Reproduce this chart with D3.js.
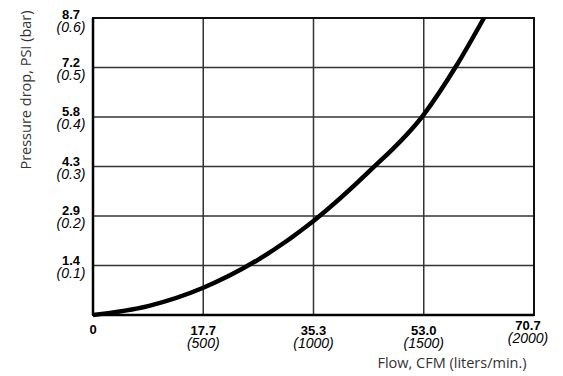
<!DOCTYPE html>
<html><head><meta charset="utf-8">
<script src="https://cdn.jsdelivr.net/npm/d3@7"></script>
<style>body{margin:0;background:#fff}svg{display:block}</style>
</head><body>
<svg id="c" width="563" height="376"></svg>
<script>
// Data
const flowLpm = [0, 250, 500, 750, 1000, 1250, 1500, 1650, 1773];
const pressureBar = [0, 0.018, 0.055, 0.112, 0.19, 0.289, 0.405, 0.505, 0.6];
const xTickLpm = [0, 500, 1000, 1500, 2000];
const xTickCfm = ["0", "17.7", "35.3", "53.0", "70.7"];
const xTickLpmLabels = ["", "(500)", "(1000)", "(1500)", "(2000)"];
const yTickBar = [0.1, 0.2, 0.3, 0.4, 0.5, 0.6];
const yTickPsi = ["1.4", "2.9", "4.3", "5.8", "7.2", "8.7"];
const yTickBarLabels = ["(0.1)", "(0.2)", "(0.3)", "(0.4)", "(0.5)", "(0.6)"];

const svg = d3.select("#c");
const L = 93, R = 534, T = 18, B = 315;
const x = d3.scaleLinear().domain([0, 2000]).range([L, R]);
const y = d3.scaleLinear().domain([0, 0.6]).range([B, T]);

// grid
svg.append("g").selectAll("line").data(xTickLpm.slice(1, -1)).join("line")
  .attr("x1", d => x(d)).attr("x2", d => x(d)).attr("y1", T).attr("y2", B)
  .attr("stroke", "#333").attr("stroke-width", 1.5);
svg.append("g").selectAll("line").data(yTickBar.slice(0, -1)).join("line")
  .attr("x1", L).attr("x2", R).attr("y1", d => y(d)).attr("y2", d => y(d))
  .attr("stroke", "#333").attr("stroke-width", 1.5);

// frame
svg.append("rect").attr("x", L).attr("y", T).attr("width", R - L).attr("height", B - T)
  .attr("fill", "none").attr("stroke", "#111").attr("stroke-width", 2);
svg.append("line").attr("x1", L).attr("x2", L).attr("y1", T).attr("y2", B)
  .attr("stroke", "#000").attr("stroke-width", 2.5);
svg.append("line").attr("x1", L).attr("x2", R).attr("y1", B).attr("y2", B)
  .attr("stroke", "#000").attr("stroke-width", 2.5);

// curve
const line = d3.line().x((d, i) => x(flowLpm[i])).y(d => y(d)).curve(d3.curveMonotoneX);
svg.append("path").datum(pressureBar).attr("d", line)
  .attr("fill", "none").attr("stroke", "#000").attr("stroke-width", 4.5);

// y labels
const yl = svg.append("g").attr("font-family", "Liberation Sans, Arial, sans-serif").attr("text-anchor", "middle").attr("fill", "#000");
yTickBar.forEach((v, i) => {
  const off = i === yTickBar.length - 1 ? 1 : -1;
  yl.append("text").attr("x", 71).attr("y", y(v) + off).attr("font-weight", "bold").attr("font-size", 13).text(yTickPsi[i]);
  yl.append("text").attr("x", 71).attr("y", y(v) + off + 13).attr("font-style", "italic").attr("font-size", 14).text(yTickBarLabels[i]);
});

// x labels
const xl = svg.append("g").attr("font-family", "Liberation Sans, Arial, sans-serif").attr("text-anchor", "middle").attr("fill", "#000");
xTickLpm.forEach((v, i) => {
  const last = i === xTickLpm.length - 1;
  const by = i === 0 ? 334 : (last ? 330 : 335);
  const cx = last ? x(v) - 6 : x(v);
  xl.append("text").attr("x", cx).attr("y", by).attr("font-weight", "bold").attr("font-size", 13).text(xTickCfm[i]);
  if (xTickLpmLabels[i]) xl.append("text").attr("x", cx).attr("y", by + 13).attr("font-style", "italic").attr("font-size", 14).text(xTickLpmLabels[i]);
});

// axis titles
svg.append("text").attr("x", 452).attr("y", 368).attr("text-anchor", "middle")
  .attr("font-family", "Open Sans, sans-serif").attr("font-size", 14.5).attr("fill", "#333")
  .text("Flow, CFM (liters/min.)");
svg.append("text").attr("transform", "translate(31,90) rotate(-90)").attr("text-anchor", "middle")
  .attr("font-family", "Open Sans, sans-serif").attr("font-size", 14.5).attr("fill", "#333")
  .text("Pressure drop, PSI (bar)");
</script>
</body></html>
